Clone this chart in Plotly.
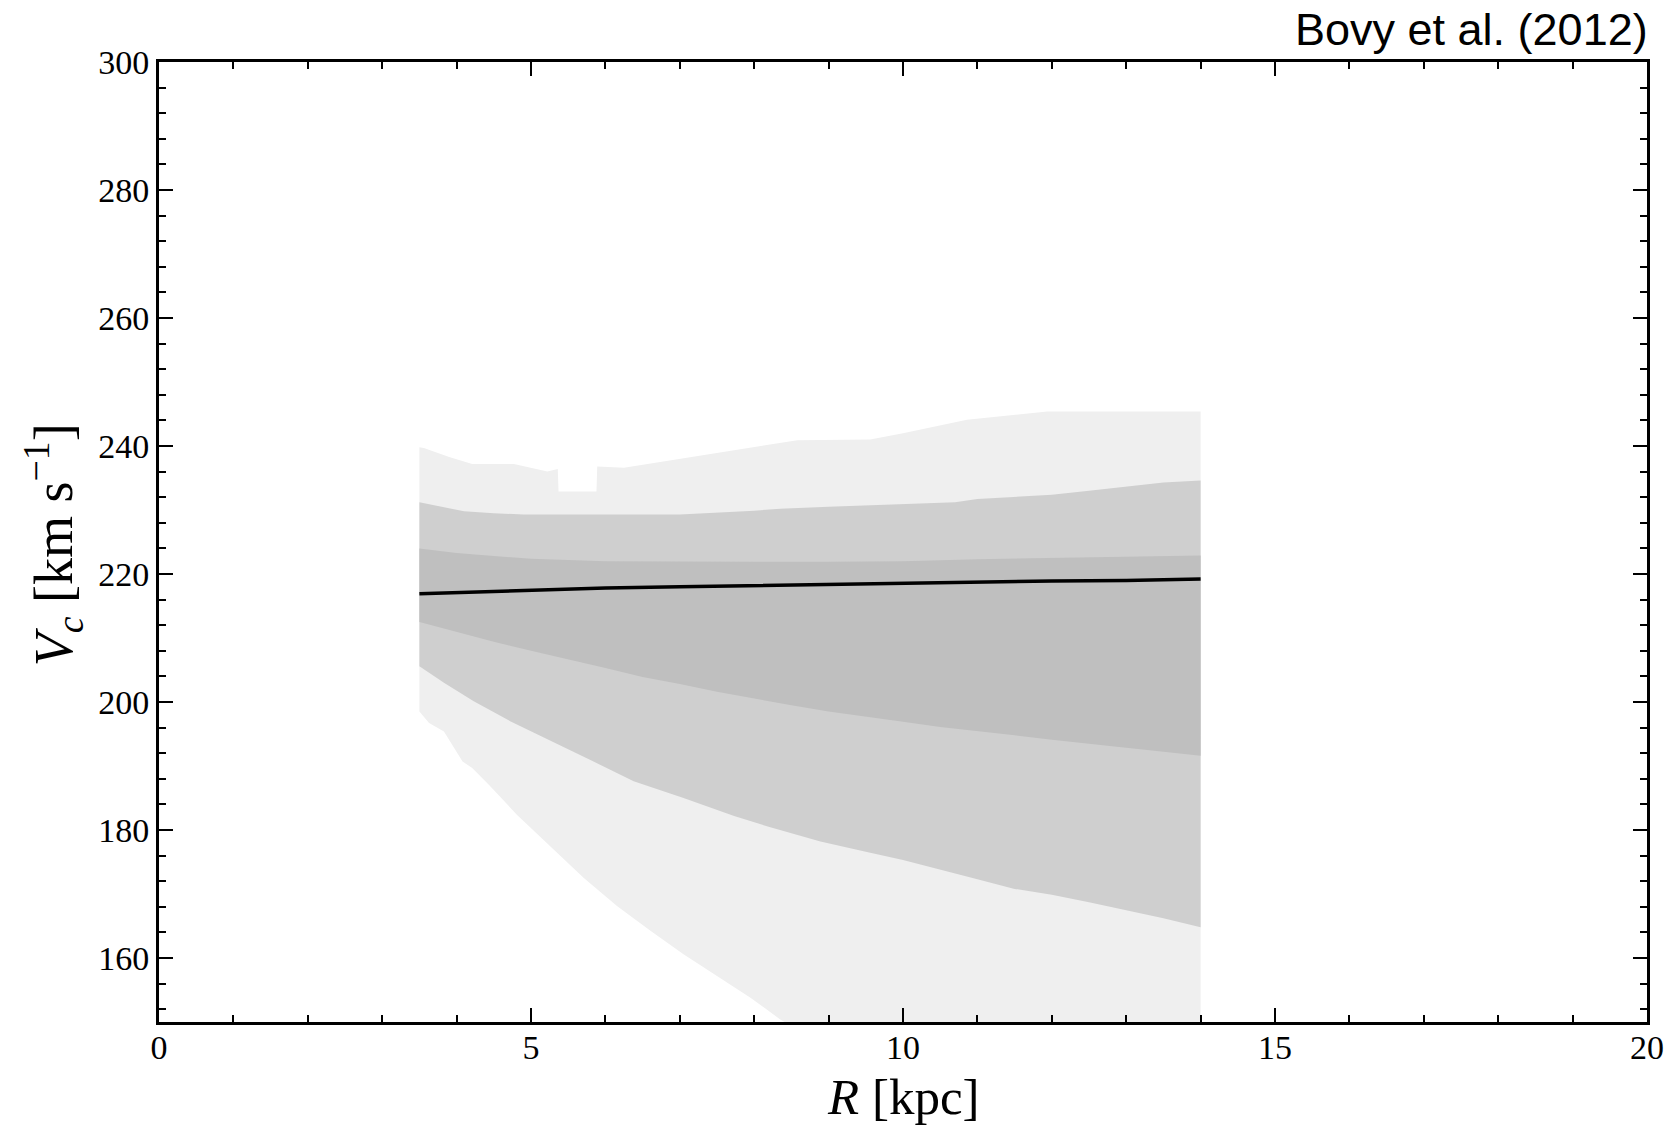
import plotly.graph_objects as go

# ---------------- data ----------------
# mean circular velocity curve
R_line = [3.5, 4.0, 5.0, 6.0, 7.0, 8.0, 9.0, 10.0, 11.0, 12.0, 13.0, 14.0]
V_line = [216.9, 217.1, 217.5, 217.8, 218.0, 218.2, 218.4, 218.6, 218.8, 218.9, 219.0, 219.2]

# inner band (darkest)
R_in_up = [3.5, 4.0, 4.5, 5.0, 6.0, 7.0, 8.0, 9.0, 10.0, 11.0, 12.0, 13.0, 14.0]
V_in_up = [224.0, 223.3, 222.8, 222.4, 222.0, 221.9, 221.9, 221.9, 222.0, 222.3, 222.5, 222.7, 222.9]
R_in_lo = [3.5, 4.0, 4.5, 5.0, 5.5, 6.0, 6.5, 7.0, 7.5, 8.0, 8.5, 9.0, 9.5, 10.0,
           10.5, 11.0, 11.5, 12.0, 12.5, 13.0, 13.5, 14.0]
V_in_lo = [212.5, 210.9, 209.4, 208.0, 206.6, 205.3, 203.9, 202.8, 201.6, 200.5, 199.5,
           198.5, 197.7, 196.9, 196.1, 195.4, 194.8, 194.1, 193.4, 192.8, 192.2, 191.6]

# middle band
R_mid_up = [3.5, 3.75, 4.1, 4.5, 4.9, 5.5, 6.0, 7.0, 8.0, 8.35, 9.0, 9.7, 10.7, 11.0,
            11.5, 12.0, 12.5, 13.0, 13.5, 14.0]
V_mid_up = [231.2, 230.6, 229.8, 229.5, 229.3, 229.3, 229.3, 229.3, 229.9, 230.2, 230.5,
            230.8, 231.2, 231.7, 232.0, 232.4, 233.0, 233.7, 234.3, 234.6]
R_mid_lo = [3.5, 3.83, 4.23, 4.72, 5.26, 5.84, 6.38, 7.05, 7.73, 8.17, 8.89, 9.5, 10.0,
            10.5, 11.0, 11.5, 12.0, 12.5, 13.0, 13.5, 14.0]
V_mid_lo = [205.6, 203.0, 200.1, 197.0, 193.9, 190.7, 187.6, 185.0, 182.2, 180.6, 178.2,
            176.6, 175.3, 173.8, 172.3, 170.8, 169.9, 168.7, 167.5, 166.2, 164.8]

# outer band (lightest)
R_out_up = [3.5, 3.56, 3.9, 4.21, 4.77, 5.22, 5.36, 5.37, 5.88, 5.89, 6.25, 7.0, 8.0,
            8.58, 9.56, 10.0, 10.86, 11.94, 14.0]
V_out_up = [239.8, 239.7, 238.3, 237.2, 237.2, 236.0, 236.4, 232.9, 232.9, 236.8, 236.6,
            238.0, 239.8, 240.9, 241.0, 242.0, 244.1, 245.4, 245.4]
R_out_lo = [3.5, 3.63, 3.83, 4.08, 4.21, 4.43, 4.81, 5.26, 5.71, 6.16, 6.61, 7.05, 7.5,
            7.95, 8.35, 9.0, 10.0, 11.0, 12.0, 13.0, 14.0]
V_out_lo = [198.5, 196.7, 195.4, 190.7, 189.7, 187.1, 182.4, 177.5, 172.5, 168.1, 164.2,
            160.6, 157.2, 153.8, 150.4, 146.0, 140.0, 135.0, 130.0, 126.0, 122.0]

x_ticks = [0, 5, 10, 15, 20]
y_ticks = [160, 180, 200, 220, 240, 260, 280, 300]

# ---------------- figure ----------------
fig = go.Figure()


def band(r_up, v_up, r_lo, v_lo, color):
    xs = list(r_up) + list(reversed(r_lo))
    ys = list(v_up) + list(reversed(v_lo))
    fig.add_trace(go.Scatter(x=xs, y=ys, mode="lines", fill="toself",
                             fillcolor=color, line=dict(width=0, color=color),
                             hoverinfo="skip", showlegend=False))


band(R_out_up, V_out_up, R_out_lo, V_out_lo, "#efefef")
band(R_mid_up, V_mid_up, R_mid_lo, V_mid_lo, "#cfcfcf")
band(R_in_up, V_in_up, R_in_lo, V_in_lo, "#bfbfbf")

fig.add_trace(go.Scatter(x=R_line, y=V_line, mode="lines",
                         line=dict(color="black", width=3.5), showlegend=False))

tick_font = dict(family="Liberation Serif", size=34, color="black")

fig.update_xaxes(range=[0, 20], tickvals=x_ticks, ticktext=[str(v) for v in x_ticks],
                 ticks="inside", ticklen=14, tickwidth=2, tickcolor="black",
                 showline=True, linewidth=3, linecolor="black", mirror="allticks",
                 showgrid=False, zeroline=False, tickfont=tick_font,
                 ticklabelstandoff=-7,
                 minor=dict(dtick=1, tick0=0, ticks="inside", ticklen=7, tickwidth=1.5,
                            tickcolor="black", showgrid=False))
fig.update_yaxes(range=[150, 300], tickvals=y_ticks, ticktext=[str(v) for v in y_ticks],
                 ticks="inside", ticklen=14, tickwidth=2, tickcolor="black",
                 showline=True, linewidth=3, linecolor="black", mirror="allticks",
                 showgrid=False, zeroline=False, tickfont=tick_font,
                 ticklabelstandoff=0,
                 minor=dict(dtick=4, tick0=0, ticks="inside", ticklen=7, tickwidth=1.5,
                            tickcolor="black", showgrid=False))

fig.add_annotation(text="<i>R</i> [kpc]", xref="paper", yref="paper", x=0.5, y=-0.078,
                   xanchor="center", yanchor="middle", showarrow=False,
                   font=dict(family="Liberation Serif", size=51, color="black"))
fig.add_annotation(text="<i>V<sub>c</sub></i> [km s<sup>\u22121</sup>]", xref="paper",
                   yref="paper", x=-0.071, y=0.497, xanchor="center", yanchor="middle",
                   textangle=-90, showarrow=False,
                   font=dict(family="Liberation Serif", size=54, color="black"))
fig.add_annotation(text="Bovy et al. (2012)", xref="paper", yref="paper", x=1.002,
                   y=1.034, xanchor="right", yanchor="middle", showarrow=False,
                   font=dict(family="Liberation Sans", size=45, color="black"))

fig.update_layout(width=1679, height=1125,
                  margin=dict(l=159, r=32, t=62, b=103),
                  paper_bgcolor="white", plot_bgcolor="white", showlegend=False)

fig.write_html("out.html")
